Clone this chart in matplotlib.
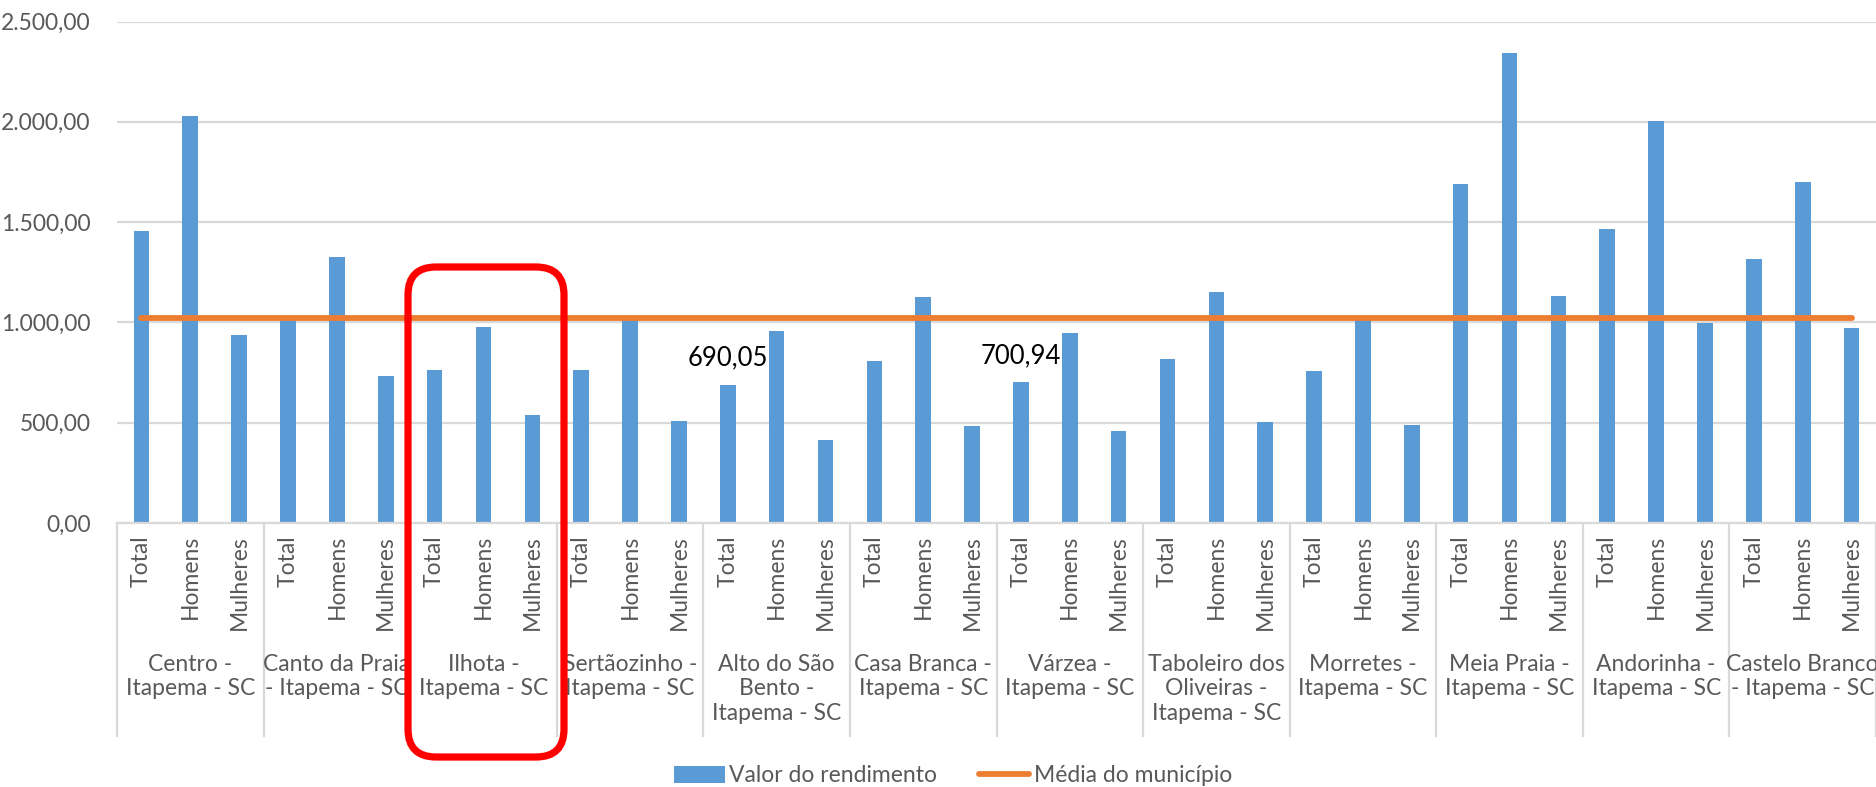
import matplotlib
matplotlib.use("Agg")
import matplotlib.pyplot as plt
import matplotlib.transforms as mtransforms
from matplotlib.patches import FancyBboxPatch, Patch
from matplotlib.lines import Line2D
import numpy as np

plt.rcParams['font.family'] = ['Lato', 'DejaVu Sans']

# ---- data ----
bairros = [
    "Centro -\nItapema - SC",
    "Canto da Praia\n- Itapema - SC",
    "Ilhota -\nItapema - SC",
    "Sertãozinho -\nItapema - SC",
    "Alto do São\nBento -\nItapema - SC",
    "Casa Branca -\nItapema - SC",
    "Várzea -\nItapema - SC",
    "Taboleiro dos\nOliveiras -\nItapema - SC",
    "Morretes -\nItapema - SC",
    "Meia Praia -\nItapema - SC",
    "Andorinha -\nItapema - SC",
    "Castelo Branco\n- Itapema - SC",
]
subcats = ["Total", "Homens", "Mulheres"]
total    = [1455, 1015, 762, 761, 690.05, 806, 700.94, 816, 758, 1691, 1467, 1318]
homens   = [2030, 1328, 975, 1015, 958, 1126, 946, 1150, 1015, 2341, 2004, 1699]
mulheres = [936, 731, 539, 510, 414, 485, 460, 505, 490, 1134, 999, 970]
media_municipio = 1021
labeled = {4: "690,05", 6: "700,94"}  # group index -> label on Total bar
yticks = [0, 500, 1000, 1500, 2000, 2500]
ytick_labels = ["0,00", "500,00", "1.000,00", "1.500,00", "2.000,00", "2.500,00"]

# ---- styling ----
BLUE = "#5B9BD5"
ORANGE = "#ED7D31"
GRID = "#D9D9D9"
TXT = "#595959"
FS = 16.5

values = []
for t, h, m in zip(total, homens, mulheres):
    values += [t, h, m]
n = len(values)
x = np.arange(n)

fig = plt.figure(figsize=(18.76, 7.87), dpi=100)
ax = fig.add_axes([117/1876, 264/787, 1 - 117/1876, (765.5-264)/787])

ax.bar(x, values, width=0.32, color=BLUE, zorder=2, label="Valor do rendimento")
ax.plot([x[0], x[-1]], [media_municipio]*2, color=ORANGE, lw=4.2,
        solid_capstyle="round", zorder=3, label="Média do município")

ax.set_xlim(-0.5, n - 0.5)
ax.set_ylim(0, 2500)
ax.set_yticks(yticks)
ax.set_yticklabels(ytick_labels, fontsize=FS, color=TXT)
ax.tick_params(axis="y", length=0, pad=19)
ax.tick_params(axis="x", length=0, labelbottom=False)
ax.yaxis.grid(True, color=GRID, lw=1.6, zorder=0)
ax.set_axisbelow(True)
for s in ["left", "right", "top"]:
    ax.spines[s].set_visible(False)
ax.spines["bottom"].set_color(GRID)
ax.spines["bottom"].set_linewidth(1.6)

# data labels
for g, lab in labeled.items():
    xi = g * 3
    ax.annotate(lab, (xi, values[xi]), xytext=(0, 10), textcoords="offset points",
                ha="center", va="bottom", fontsize=FS * 1.12, color="black")

# multi-level category axis
trans = mtransforms.blended_transform_factory(ax.transData, ax.transAxes)
ax_h = 765.5 - 264
for i in range(n):
    ax.text(x[i], -12/ax_h, subcats[i % 3], transform=trans, rotation=90,
            ha="center", va="top", fontsize=FS, color=TXT)
for g, name in enumerate(bairros):
    ax.text(g*3 + 1, -131/ax_h, name, transform=trans, ha="center", va="top",
            fontsize=FS, color=TXT, linespacing=1.2)
for g in range(len(bairros) + 1):
    xb = g*3 - 0.5
    ax.plot([xb, xb], [0, -213/ax_h], transform=trans, color=GRID, lw=1.6,
            clip_on=False)

# legend
handles = [Patch(facecolor=BLUE, edgecolor="none"),
           Line2D([0], [0], color=ORANGE, lw=4.2, solid_capstyle="round")]
fig.legend(handles, ["Valor do rendimento", "Média do município"],
           loc="center", bbox_to_anchor=(953/1876, 11/787), ncol=2, frameon=False,
           fontsize=FS, labelcolor=TXT, handlelength=2.2, handleheight=0.7,
           handletextpad=0.2, columnspacing=1.8)

# red highlight box around Ilhota
box = FancyBboxPatch((4.08, 0.30), 1.56, 4.90,
                     boxstyle="round,pad=0,rounding_size=0.28",
                     transform=fig.dpi_scale_trans, fill=False,
                     edgecolor="#FF0000", lw=5.2, zorder=10)
fig.add_artist(box)

fig.savefig("out.png", dpi=100)
